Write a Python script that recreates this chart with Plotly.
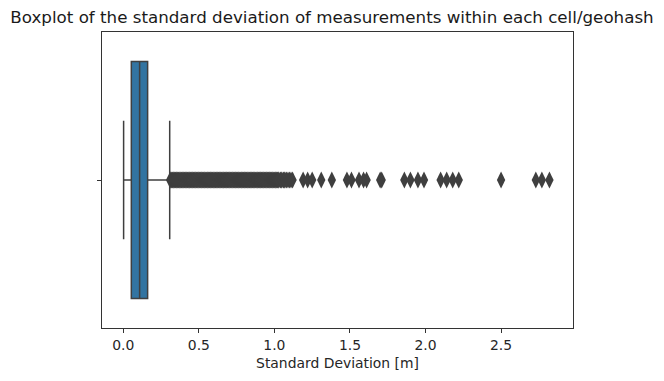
import plotly.graph_objects as go

# Box statistics (Standard Deviation [m])
q1 = [0.053]
median = [0.108]
q3 = [0.161]
lowerfence = [0.002]
upperfence = [0.307]

# Outliers
outliers = [
    0.310, 0.315, 0.320, 0.325, 0.330, 0.335, 0.340, 0.345, 0.350, 0.355,
    0.360, 0.365, 0.370, 0.375, 0.380, 0.385, 0.390, 0.395, 0.400, 0.405,
    0.410, 0.415, 0.420, 0.425, 0.430, 0.435, 0.440, 0.445, 0.450, 0.455,
    0.460, 0.465, 0.470, 0.475, 0.480, 0.485, 0.490, 0.495, 0.500, 0.505,
    0.510, 0.515, 0.520, 0.525, 0.530, 0.535, 0.540, 0.545, 0.550, 0.555,
    0.560, 0.565, 0.570, 0.575, 0.580, 0.585, 0.590, 0.595, 0.600, 0.605,
    0.610, 0.615, 0.620, 0.625, 0.630, 0.635, 0.640, 0.645, 0.650, 0.655,
    0.660, 0.665, 0.670, 0.675, 0.680, 0.685, 0.690, 0.695, 0.700, 0.705,
    0.710, 0.715, 0.720, 0.725, 0.730, 0.735, 0.740, 0.745, 0.750, 0.755,
    0.760, 0.765, 0.770, 0.775, 0.780, 0.785, 0.790, 0.795, 0.800, 0.805,
    0.810, 0.815, 0.820, 0.825, 0.830, 0.835, 0.840, 0.845, 0.850, 0.855,
    0.860, 0.865, 0.870, 0.875, 0.880, 0.885, 0.890, 0.895, 0.900, 0.905,
    0.910, 0.915, 0.920, 0.925, 0.930, 0.935, 0.940, 0.945, 0.950, 0.955,
    0.960, 0.965, 0.970, 0.975, 0.980, 0.985, 0.990, 0.995, 1.000, 1.005,
    1.010, 1.015, 1.020, 1.025, 1.030, 1.040, 1.045, 1.050, 1.060, 1.065,
    1.070, 1.080, 1.090, 1.100, 1.110, 1.120,
    1.19, 1.22, 1.25, 1.31, 1.38, 1.48, 1.51, 1.56, 1.59, 1.61,
    1.70, 1.71, 1.86, 1.90, 1.95, 1.99, 2.10, 2.14, 2.18, 2.22,
    2.50, 2.73, 2.77, 2.82,
]

title_text = "Boxplot of the standard deviation of measurements within each cell/geohash"
x_label = "Standard Deviation [m]"
x_ticks = [0.0, 0.5, 1.0, 1.5, 2.0, 2.5]
x_ticktext = ["0.0", "0.5", "1.0", "1.5", "2.0", "2.5"]

edge = "#3f3f3f"
fig = go.Figure()
fig.add_trace(go.Box(
    y=[0], q1=q1, median=median, q3=q3,
    lowerfence=lowerfence, upperfence=upperfence,
    orientation="h", boxpoints=False, width=0.8, whiskerwidth=0.5,
    fillcolor="#3274a1", line=dict(color=edge, width=1.5),
    showlegend=False, hoverinfo="skip",
))
fig.add_trace(go.Scatter(
    x=outliers, y=[0] * len(outliers), mode="markers",
    marker=dict(symbol="diamond-tall", size=12, color=edge, line=dict(width=0)),
    showlegend=False,
))

fig.update_layout(
    width=664, height=381,
    margin=dict(l=102, r=91, t=32, b=46),
    paper_bgcolor="white", plot_bgcolor="white",
    font=dict(family="DejaVu Sans", size=13.9, color="#262626"),
    title=dict(text=title_text, x=0.5, xref="container", y=1 - 17 / 381,
               yref="container", yanchor="middle", xanchor="center",
               font=dict(size=16.7, color="#1a1a1a")),
)
fig.update_xaxes(
    range=[-0.141, 2.976], tickvals=x_ticks, ticktext=x_ticktext,
    ticks="outside", ticklen=4, tickwidth=1, tickcolor="#333",
    showline=True, linecolor="#333", linewidth=1.2, mirror=True,
    showgrid=False, zeroline=False,
    title=dict(text=x_label, standoff=6, font=dict(size=13.9)),
)
fig.update_yaxes(
    range=[-0.5, 0.5], tickvals=[0], ticktext=[""],
    ticks="outside", ticklen=4, tickwidth=1, tickcolor="#333",
    showline=True, linecolor="#333", linewidth=1.2, mirror=True,
    showgrid=False, zeroline=False,
)

fig.write_html("out.html", config={"displayModeBar": False},
               post_script="document.body.style.margin='0';")
